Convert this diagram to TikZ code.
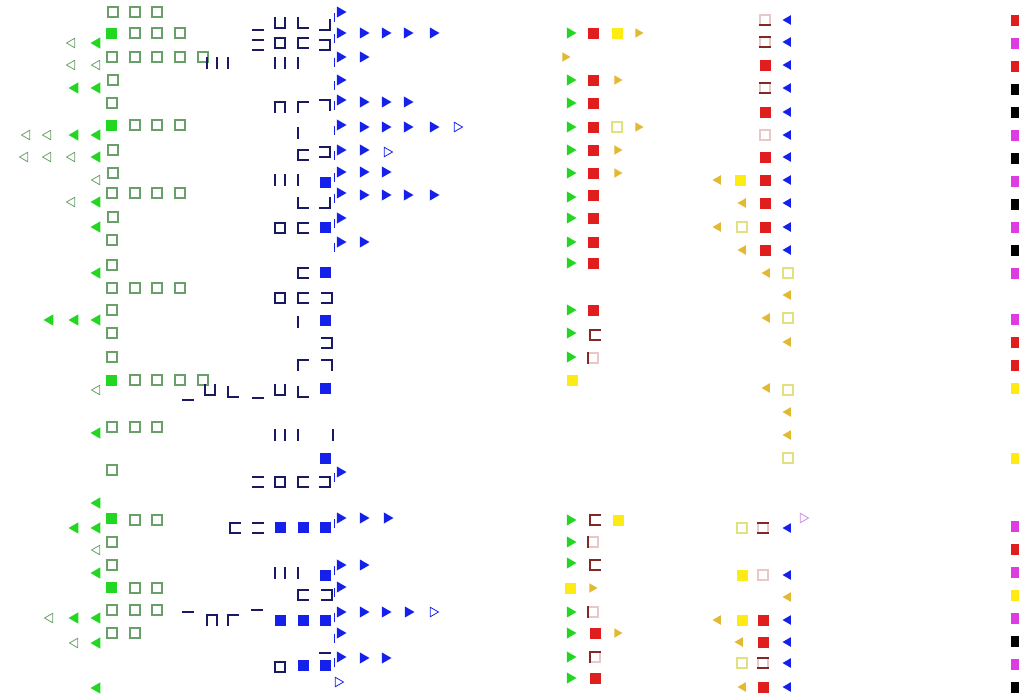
\documentclass[tikz,border=0pt]{standalone}
\usepackage{tikz}
\usetikzlibrary{shapes.geometric}
\definecolor{grnf}{RGB}{34,214,34}
\definecolor{grno}{RGB}{105,160,105}
\definecolor{navy}{RGB}{25,25,100}
\definecolor{blu}{RGB}{22,32,235}
\definecolor{redf}{RGB}{225,30,30}
\definecolor{redd}{RGB}{130,40,40}
\definecolor{redp}{RGB}{235,200,200}
\definecolor{yelf}{RGB}{255,235,20}
\definecolor{yelt}{RGB}{228,185,50}
\definecolor{yelo}{RGB}{225,225,130}
\definecolor{magf}{RGB}{222,60,225}
\definecolor{violt}{RGB}{200,140,230}

\newcommand{\sqpart}[7]{%
  \ifnum#4=1 \draw[frag=#1] (#2-5,#3-5) -- (#2+5,#3-5);\fi
  \ifnum#5=1 \draw[frag=#1] (#2-5,#3+5) -- (#2+5,#3+5);\fi
  \ifnum#6=1 \draw[frag=#1] (#2-5,#3-5) -- (#2-5,#3+5);\fi
  \ifnum#7=1 \draw[frag=#1] (#2+5,#3-5) -- (#2+5,#3+5);\fi}

\begin{document}
\begin{tikzpicture}[x=1pt,y=-1pt,
every node/.style={inner sep=0pt,outer sep=0pt},
sq/.style={rectangle,minimum size=10pt},
fsq/.style={sq,fill=#1,minimum size=11pt},
osq/.style={sq,draw=#1,line width=1.2pt},
tri/.style={regular polygon,regular polygon sides=3,minimum size=13pt},
rtri/.style={tri,shape border rotate=-90,fill=#1},
ltri/.style={tri,shape border rotate=90,fill=#1},
rotri/.style={tri,shape border rotate=-90,draw=#1,line width=0.8pt,minimum size=11pt},
lotri/.style={tri,shape border rotate=90,draw=#1,line width=0.8pt,minimum size=11pt},
frag/.style={draw=#1,line width=1.3pt,line cap=rect}
]
\useasboundingbox (0,0) rectangle (1019,696);

\foreach \x/\y [count=\i] in {113/12,135/12,157/12,135/33,157/33,180/33,
  112/57,135/57,157/57,180/57,203/57,113/80,112/103,135/125,157/125,180/125,
  113/150,113/173,112/193,135/193,157/193,180/193,113/217,112/240,112/265,
  112/288,135/288,157/288,180/288,112/310,112/333,112/357,
  135/380,157/380,180/380,203/380,112/427,135/427,157/427,112/470,
  135/520,157/520,112/542,112/565,135/588,157/588,
  112/610,135/610,157/610,112/633,135/633}
  \node[osq=grno] (go\i) at (\x,\y) {};
\foreach \y [count=\i] in {33,125,380,518,587}
  \node[fsq=grnf] (gf\i) at (111,\y) {};
\foreach \x/\y [count=\i] in {97/43,75/88,97/88,75/135,97/135,97/157,97/202,
  97/227,97/273,50/320,75/320,97/320,97/433,97/503,75/528,97/528,97/573,
  75/618,97/618,97/643,97/688}
  \node[ltri=grnf] (gt\i) at (\x,\y) {};
\foreach \x/\y [count=\i] in {72/43,72/65,97/65,27/135,48/135,25/157,48/157,
  72/157,97/180,72/202,97/390,97/550,50/618,75/643}
  \node[lotri=grno] (gu\i) at (\x,\y) {};

\foreach \x/\y/\pT/\pB/\pL/\pR in {258/25/0/1/0/0,280/23/0/1/1/1,303/23/0/1/1/0,
  325/25/0/1/0/1,258/45/1/1/0/0,303/43/1/1/1/0,325/45/1/1/0/1,
  212/63/0/0/1/1,233/63/0/0/1/0,280/63/0/0/1/1,303/63/0/0/1/0,
  280/107/1/0/1/1,303/107/1/0/1/0,325/105/1/0/0/1,303/133/0/0/1/0,
  303/155/1/1/1/0,325/152/1/1/0/1,280/180/0/0/1/1,303/180/0/0/1/0,
  303/203/0/1/1/0,325/203/0/1/0/1,303/228/1/1/1/0,303/273/1/1/1/0,
  303/298/1/1/1/0,327/298/1/1/0/1,303/322/0/0/1/0,327/343/1/1/0/1,
  303/365/1/0/1/0,327/365/1/0/0/1,188/395/0/1/0/0,210/390/0/1/1/1,
  233/392/0/1/1/0,258/393/0/1/0/0,280/390/0/1/1/1,303/392/0/1/1/0,
  280/435/0/0/1/1,303/435/0/0/1/0,328/435/0/0/0/1,258/482/1/1/0/0,
  303/482/1/1/1/0,325/482/1/1/0/1,235/528/1/1/1/0,258/528/1/1/0/0,
  280/573/0/0/1/1,303/573/0/0/1/0,303/595/1/1/1/0,327/595/1/1/0/1,
  188/617/1/0/0/0,212/620/1/0/1/1,233/620/1/0/1/0,257/615/1/0/0/0,
  325/648/0/1/0/0}
  {\sqpart{navy}{\x}{\y}{\pT}{\pB}{\pL}{\pR}}
\foreach \y [count=\i] in {43,228,298,482,667}
  \node[osq=navy,line width=1.3pt] (bo\i) at (280,\y) {};
\foreach \x/\y [count=\i] in {325/182,325/227,325/272,325/320,325/388,325/458,
  280/527,303/527,325/527,325/575,280/620,303/620,325/620,303/665,325/665}
  \node[fsq=blu] (bf\i) at (\x,\y) {};
\foreach \y in {12,33,57,80,100,125,150,172,193,218,242,472,518,565,587,612,633,657}
  \draw[blu,line width=1pt] (334,\y+1) -- (334,\y+10);
\foreach \x/\y [count=\i] in {340/12,340/33,363/33,385/33,407/33,433/33,
  340/57,363/57,340/80,340/100,363/102,385/102,407/102,
  340/125,363/127,385/127,407/127,433/127,340/150,363/150,
  340/172,363/172,385/172,340/193,363/195,385/195,407/195,433/195,
  340/218,340/242,363/242,340/472,340/518,363/518,387/518,
  340/565,363/565,340/587,340/612,363/612,385/612,408/612,
  340/633,340/657,363/658,385/658}
  \node[rtri=blu] (bt\i) at (\x,\y) {};
\foreach \x/\y [count=\i] in {457/127,387/152,433/612,338/682}
  \node[rotri=blu] (bu\i) at (\x,\y) {};

\foreach \y [count=\i] in {33,80,103,127,150,173,197,218,242,263,310,333,357,
  520,542,563,612,633,657,678}
  \node[rtri=grnf] (ct\i) at (570,\y) {};
\foreach \x/\y [count=\i] in {593/33,593/80,593/103,593/127,593/150,593/173,
  593/195,593/218,593/242,593/263,593/310,595/633,595/678}
  \node[fsq=redf] (cr\i) at (\x,\y) {};
\foreach \x/\y [count=\i] in {593/358,593/542,593/612,595/657}
  \node[osq=redp] (cp\i) at (\x,\y) {};
\foreach \x/\y/\pT/\pB/\pL/\pR in {595/335/1/1/1/0,593/358/0/0/1/0,
  595/520/1/1/1/0,593/542/0/0/1/0,595/565/1/1/1/0,593/612/0/0/1/0,
  595/657/1/0/1/0}
  {\sqpart{redd}{\x}{\y}{\pT}{\pB}{\pL}{\pR}}
\foreach \x/\y [count=\i] in {617/33,572/380,618/520,570/588}
  \node[fsq=yelf] (cy\i) at (\x,\y) {};
\node[osq=yelo] (co1) at (617,127) {};
\foreach \x/\y [count=\i] in {638/33,565/57,617/80,638/127,617/150,617/173,
  592/588,617/633}
  \node[rtri=yelt,minimum size=11pt] (cs\i) at (\x,\y) {};

\foreach \y [count=\i] in {20,42,65,88,112,135,157,180,203,227,250,
  528,575,620,642,663,687}
  \node[ltri=blu,minimum size=11pt] (dt\i) at (788,\y) {};
\foreach \x/\y [count=\i] in {765/65,765/112,765/157,765/180,765/203,765/227,
  765/250,763/620,763/642,763/687}
  \node[fsq=redf] (dr\i) at (\x,\y) {};
\foreach \x/\y [count=\i] in {765/20,765/42,765/88,765/135,763/528,763/575,763/663}
  \node[osq=redp] (dp\i) at (\x,\y) {};
\foreach \x/\y/\pT/\pB/\pL/\pR in {765/20/0/1/0/0,765/42/1/1/0/0,
  765/88/1/1/0/0,763/528/1/1/0/0,763/663/1/1/0/0}
  {\sqpart{redd}{\x}{\y}{\pT}{\pB}{\pL}{\pR}}
\foreach \x/\y [count=\i] in {718/180,743/203,718/227,743/250,767/273,788/295,
  767/318,788/342,767/388,788/412,788/435,788/597,718/620,740/642,743/687}
  \node[ltri=yelt,minimum size=11pt] (ds\i) at (\x,\y) {};
\foreach \x/\y [count=\i] in {740/180,742/575,742/620}
  \node[fsq=yelf] (dy\i) at (\x,\y) {};
\foreach \x/\y [count=\i] in {742/227,788/273,788/318,788/390,788/458,742/528,742/663}
  \node[osq=yelo] (do\i) at (\x,\y) {};
\node[rotri=violt] (dv1) at (803,518) {};

\foreach \y/\c [count=\i] in {20/redf,43/magf,66/redf,89/black,112/black,
  135/magf,158/black,181/magf,204/black,227/magf,250/black,273/magf,
  319/magf,342/redf,365/redf,388/yelf,458/yelf,526/magf,549/redf,572/magf,
  595/yelf,618/magf,641/black,664/magf,687/black}
  \node[fsq=\c] (e\i) at (1016,\y) {};
\end{tikzpicture}
\end{document}
